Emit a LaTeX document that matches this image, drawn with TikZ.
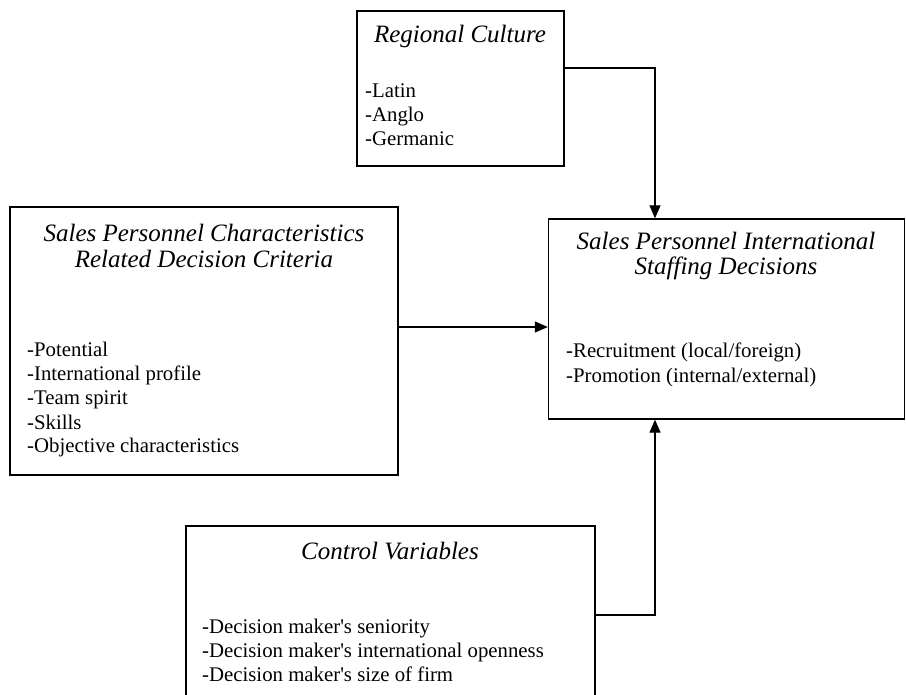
\documentclass[tikz,border=0pt]{standalone}
\usepackage{fontspec}
\setmainfont{Liberation Serif}
\usetikzlibrary{arrows.meta}
\begin{document}
\begin{tikzpicture}[x=1pt,y=-1pt,
  box/.style={draw,line width=1.4pt,rectangle,inner sep=0pt},
  ttl/.style={font=\fontsize{25}{25.5}\selectfont\itshape,align=center,inner sep=0pt},
  itm/.style={font=\fontsize{20.8}{24}\selectfont,anchor=base west,inner sep=0pt},
  conn/.style={line width=1.4pt,-{Triangle[length=13pt,width=11pt]}}]
\clip (0,0) rectangle (906,695);
\fill[white] (0,0) rectangle (906,695);
% boxes
\node[box,minimum width=207pt,minimum height=155pt] (rc) at (460.5,88.5) {};
\node[box,minimum width=388pt,minimum height=268pt] (sc) at (204,341) {};
\node[box,minimum width=356pt,minimum height=200pt] (st) at (726.5,319) {};
\node[box,minimum width=409pt,minimum height=180pt] (cv) at (390.5,616) {};
% titles
\node[ttl] (rct) at (460,36) {Regional Culture};
\node[ttl] (sct) at (204,246) {Sales Personnel Characteristics\\Related Decision Criteria};
\node[ttl] (stt) at (726,256) {Sales Personnel International\\Staffing Decisions};
\node[ttl] (cvt) at (390,551) {Control Variables};
% items
\node[itm] (rc1) at (365,98) {-Latin};
\node[itm] (rc2) at (365,122) {-Anglo};
\node[itm] (rc3) at (365,146) {-Germanic};
\node[itm] (sc1) at (27,357) {-Potential};
\node[itm] (sc2) at (27,381) {-International profile};
\node[itm] (sc3) at (27,405) {-Team spirit};
\node[itm] (sc4) at (27,429) {-Skills};
\node[itm] (sc5) at (27,453) {-Objective characteristics};
\node[itm] (st1) at (566,358) {-Recruitment (local/foreign)};
\node[itm] (st2) at (566,382) {-Promotion (internal/external)};
\node[itm] (cv1) at (202,633) {-Decision maker\textquotesingle s seniority};
\node[itm] (cv2) at (202,657) {-Decision maker\textquotesingle s international openness};
\node[itm] (cv3) at (202,681) {-Decision maker\textquotesingle s size of firm};
% connectors
\coordinate (rcout) at (rc.east |- 0,68);
\coordinate (stin) at (655,0 |- st.north);
\coordinate (scout) at (sc.east |- 0,327);
\coordinate (cvout) at (cv.east |- 0,615);
\coordinate (stbot) at (655,0 |- st.south);
\draw[conn] (rcout) -| (stin);
\draw[conn] (scout) -- (scout -| st.west);
\draw[conn] (cvout) -| (stbot);
\end{tikzpicture}
\end{document}
